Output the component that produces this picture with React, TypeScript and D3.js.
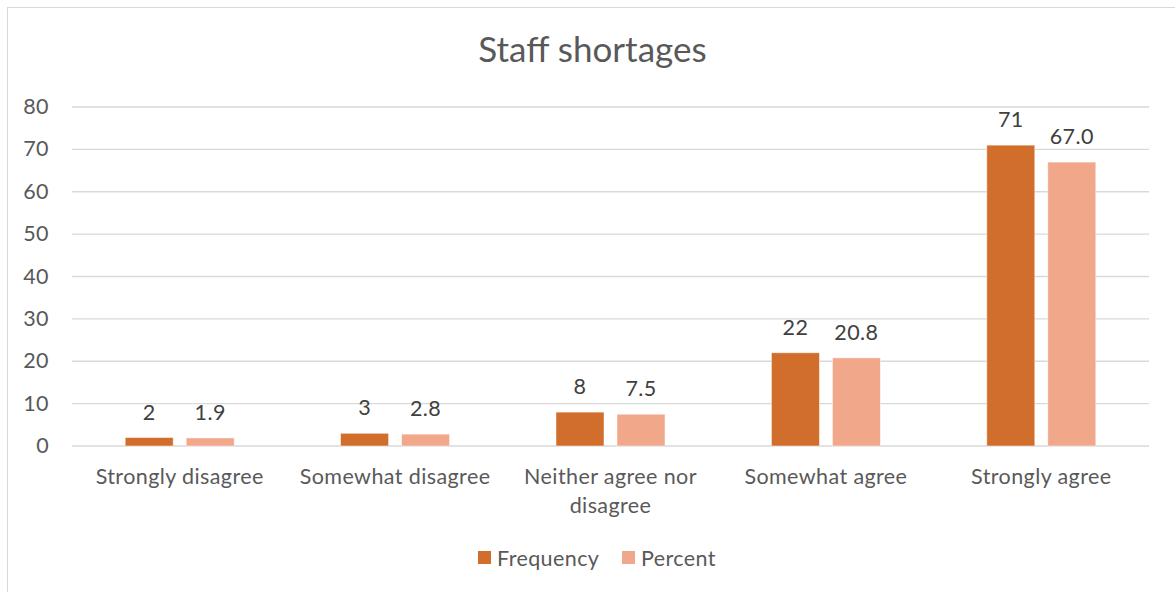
import React from "react";
import * as d3 from "d3";

const categories = [
  "Strongly disagree",
  "Somewhat disagree",
  "Neither agree nor disagree",
  "Somewhat agree",
  "Strongly agree",
];
const series = ["Frequency", "Percent"];
const frequency = [2, 3, 8, 22, 71];
const percent = [1.9, 2.8, 7.5, 20.8, 67.0];
const percentLabels = ["1.9", "2.8", "7.5", "20.8", "67.0"];
const yTicks = [0, 10, 20, 30, 40, 50, 60, 70, 80];
const colors = ["#D26E2B", "#F1A88A"];

const W = 1175;
const H = 592;
const FONT = "Lato, 'Open Sans', sans-serif";
const TEXT = "#595959";
const FS = 21.5;
const LS = 0.4;

function wrapLabel(label: string): string[] {
  if (label === "Neither agree nor disagree") return ["Neither agree nor", "disagree"];
  return [label];
}

export default function App() {
  const x0 = d3.scaleBand<string>().domain(categories).range([72, 1149]).padding(0);
  const bw = x0.bandwidth();
  const groupW = 109;
  const x1 = d3
    .scaleBand<string>()
    .domain(series)
    .range([bw / 2 - groupW / 2, bw / 2 + groupW / 2])
    .paddingInner(0.213)
    .paddingOuter(0);
  const y = d3.scaleLinear().domain([0, 80]).range([446, 107]);

  const values = [frequency, percent];
  const labels = [frequency.map((v) => String(v)), percentLabels];

  return (
    <svg
      width={W}
      height={H}
      style={{ position: "fixed", left: 0, top: 0, background: "#fff" }}
      fontFamily={FONT}
    >
      <rect x={7.5} y={7.5} width={W + 10} height={H + 10} fill="#fff" stroke="#d9d9d9" strokeWidth={1} />
      <text x={592.5} y={62} textAnchor="middle" fontSize={35} fill={TEXT}>
        Staff shortages
      </text>
      {yTicks.map((t) => (
        <g key={t}>
          <line x1={72} x2={1149} y1={y(t)} y2={y(t)} stroke="#d9d9d9" strokeWidth={1.3} />
          <text x={49} y={y(t) + 7} textAnchor="end" fontSize={FS} letterSpacing={LS} fill={TEXT}>
            {t}
          </text>
        </g>
      ))}
      {categories.map((c, i) => (
        <g key={c} transform={`translate(${x0(c)},0)`}>
          {series.map((s, j) => {
            const v = values[j][i];
            const bx = x1(s)!;
            const top = y(v);
            return (
              <g key={s}>
                <rect
                  x={bx}
                  y={top}
                  width={x1.bandwidth()}
                  height={y(0) - top}
                  fill={colors[j]}
                  stroke="#fff"
                  strokeOpacity={0.6}
                  strokeWidth={0.8}
                />
                <text
                  x={bx + x1.bandwidth() / 2}
                  y={top - 18}
                  textAnchor="middle"
                  fontSize={FS}
                  letterSpacing={LS}
                  fill="#404040"
                >
                  {labels[j][i]}
                </text>
              </g>
            );
          })}
          {wrapLabel(c).map((line, k) => (
            <text
              key={k}
              x={bw / 2}
              y={484 + k * 29}
              textAnchor="middle"
              fontSize={FS}
              letterSpacing={LS}
              fill={TEXT}
            >
              {line}
            </text>
          ))}
        </g>
      ))}
      {series.map((s, j) => {
        const lx = j === 0 ? 478 : 622;
        return (
          <g key={s}>
            <rect x={lx} y={551} width={13} height={13} fill={colors[j]} />
            <text x={lx + 19} y={566} fontSize={FS} letterSpacing={LS} fill={TEXT}>
              {s}
            </text>
          </g>
        );
      })}
    </svg>
  );
}
